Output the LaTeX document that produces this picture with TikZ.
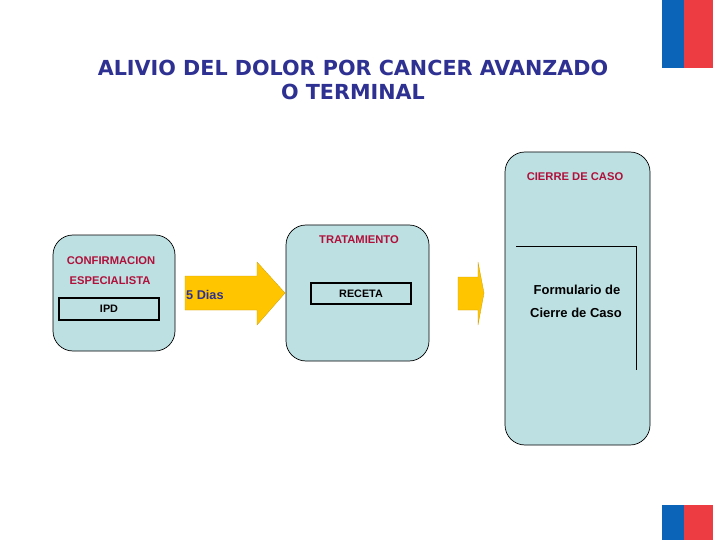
\documentclass[tikz,border=0pt]{standalone}
\usepackage{fontspec}
\setmainfont{Liberation Sans}
\newfontfamily\titlefont{DejaVu Sans}
\usetikzlibrary{shapes.arrows}
\definecolor{boxfill}{HTML}{BDE0E3}
\definecolor{redtxt}{HTML}{B0103A}
\definecolor{navy}{HTML}{2E3192}
\definecolor{arrowyel}{HTML}{FFC600}
\definecolor{flagblue}{HTML}{0B64B8}
\definecolor{flagred}{HTML}{EE3D42}
\tikzset{
  stage/.style={draw=black, fill=boxfill, rounded corners=20pt, line width=0.7pt},
  redlabel/.style={text=redtxt, font=\bfseries\fontsize{11.2}{13}\selectfont, inner sep=0pt},
  inbox/.style={draw=black, line width=1.2pt, font=\bfseries\fontsize{10.8}{12}\selectfont, inner sep=0pt},
  yarrow/.style={fill=arrowyel, draw=arrowyel!80!black, line width=0.3pt},
}
\begin{document}
\begin{tikzpicture}[x=1pt,y=-1pt]
\useasboundingbox (0,0) rectangle (720,540);
\fill[white] (0,0) rectangle (720,540);
% flags
\fill[flagblue] (662,0) rectangle (684,68);
\fill[flagred] (684,0) rectangle (713,68);
\fill[flagblue] (662,505) rectangle (684,540);
\fill[flagred] (684,505) rectangle (713,540);
% title
\node[text=navy, font=\titlefont\bfseries\fontsize{20.7}{24}\selectfont, align=center] (title) at (353,80)
  {ALIVIO DEL DOLOR POR CANCER AVANZADO\\O TERMINAL};
% box 1
\draw[stage] (53,235) rectangle (175,351);
\node[redlabel] (conf) at (111,261) {CONFIRMACION};
\node[redlabel] (esp) at (110,281) {ESPECIALISTA};
\node[inbox, minimum width=100pt, minimum height=22pt] (ipd) at (109,309) {IPD};
% arrow 1
\fill[yarrow] (185,276) -- (257,276) -- (257,262) -- (285,293) -- (257,325) -- (257,310) -- (185,310) -- cycle;
\node[text=navy, font=\bfseries\fontsize{12.7}{15}\selectfont, anchor=west, inner sep=0pt] (dias) at (186,295) {5 Dias};
% box 2
\draw[stage] (286,225) rectangle (429,361);
\node[redlabel] (trat) at (359,240) {TRATAMIENTO};
\node[inbox, minimum width=100pt, minimum height=21pt] (receta) at (361,293.5) {RECETA};
% arrow 2
\fill[yarrow] (458,277) -- (478,277) -- (478,262) -- (484,293) -- (478,325) -- (478,310) -- (458,310) -- cycle;
% box 3
\draw[stage] (505,152) rectangle (650,445);
\node[redlabel] (cierre) at (575,177) {CIERRE DE CASO};
\coordinate (l1) at (516,246);
\coordinate (l2) at (636,246);
\coordinate (l3) at (636,370);
\draw[line width=0.9pt] (l1) -- (l2) -- (l3);
\node[font=\bfseries\fontsize{13}{15}\selectfont, inner sep=0pt] (form) at (577,290) {Formulario de};
\node[font=\bfseries\fontsize{13}{15}\selectfont, inner sep=0pt] (cdc) at (576,313) {Cierre de Caso};
\end{tikzpicture}
\end{document}
